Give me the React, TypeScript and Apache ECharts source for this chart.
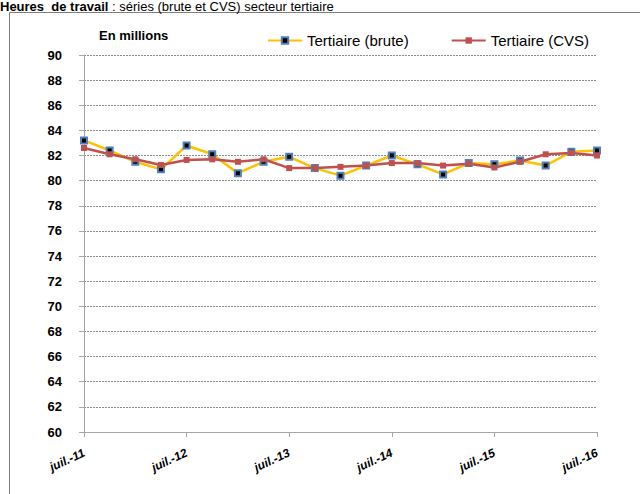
import React, { useEffect, useRef } from "react";
import * as echarts from "echarts";

const months = ["juil.", "oct.", "janv.", "avr."];
const categories: string[] = [];
for (let i = 0; i < 21; i++) {
  const m = months[i % 4];
  const yr = 11 + Math.floor((i + 2) / 4);
  categories.push(`${m}-${yr}`);
}
const brute = [83.2, 82.4, 81.5, 80.9, 82.8, 82.1, 80.6, 81.5, 81.9, 81.0, 80.4, 81.2, 82.0, 81.3, 80.5, 81.4, 81.3, 81.6, 81.2, 82.3, 82.4];
const cvs = [82.6, 82.1, 81.7, 81.25, 81.65, 81.7, 81.5, 81.7, 81.0, 81.0, 81.1, 81.2, 81.4, 81.4, 81.2, 81.35, 81.05, 81.5, 82.1, 82.2, 82.0];

const FONT = "'Liberation Sans', Arial, sans-serif";

export default function App() {
  const ref = useRef<HTMLDivElement>(null);
  useEffect(() => {
    const chart = echarts.init(ref.current!, null, { renderer: "svg" });
    chart.setOption({
      animation: false,
      backgroundColor: "#fff",
      graphic: [
        {
          type: "rect",
          shape: { x: 9.5, y: 12.5, width: 700, height: 600 },
          style: { fill: "none", stroke: "#7f7f7f", lineWidth: 1 },
        },
        {
          type: "text",
          left: 0,
          top: 0,
          z: 10,
          style: {
            text: "{b|Heures  de travail} : séries (brute et CVS) secteur tertiaire",
            font: "13px " + FONT,
            fill: "#000",
            rich: {
              b: { fontWeight: "bold", fontSize: 13, fontFamily: FONT },
            },
          },
        },
        {
          type: "text",
          left: 99,
          top: 29,
          style: { text: "En millions", font: "bold 13px " + FONT, fill: "#000" },
        },
      ],
      legend: {
        top: 28,
        left: 262,
        itemGap: 42,
        itemWidth: 34,
        itemHeight: 8,
        textStyle: { fontFamily: FONT, fontSize: 15, color: "#000" },
        data: ["Tertiaire (brute)", "Tertiaire (CVS)"],
      },
      grid: { left: 84, right: 43, top: 55, bottom: 62, containLabel: false },
      xAxis: {
        type: "category",
        data: categories,
        boundaryGap: false,
        axisLine: { lineStyle: { color: "#a6a6a6" } },
        axisTick: { alignWithLabel: true, interval: 3, length: 5, lineStyle: { color: "#a6a6a6" } },
        axisLabel: {
          interval: 3,
          rotate: 25,
          fontFamily: FONT,
          fontSize: 12,
          fontWeight: "bold",
          fontStyle: "italic",
          color: "#000",
          margin: 20,
        },
        splitLine: { show: false },
      },
      yAxis: {
        type: "value",
        min: 60,
        max: 90,
        interval: 2,
        axisLine: { show: true, lineStyle: { color: "#a6a6a6" } },
        axisTick: { show: true, length: 5, lineStyle: { color: "#a6a6a6" } },
        axisLabel: { fontFamily: FONT, fontSize: 13, fontWeight: "bold", color: "#000", margin: 22 },
        splitLine: { lineStyle: { color: "#8c8c8c", type: [2, 1], width: 1 } },
      },
      series: [
        {
          name: "Tertiaire (brute)",
          type: "line",
          data: brute,
          symbol: "rect",
          symbolSize: 6,
          showAllSymbol: true,
          lineStyle: { color: "#FFC000", width: 2.5 },
          itemStyle: { color: "#000", borderColor: "#4F81BD", borderWidth: 2 },
        },
        {
          name: "Tertiaire (CVS)",
          type: "line",
          data: cvs,
          symbol: "rect",
          symbolSize: 6,
          showAllSymbol: true,
          lineStyle: { color: "#C0504D", width: 2.5 },
          itemStyle: { color: "#C0504D", borderColor: "#C0504D", borderWidth: 0 },
        },
      ],
    });
    return () => chart.dispose();
  }, []);
  return (
    <div
      ref={ref}
      style={{ position: "fixed", left: 0, top: 0, width: 640, height: 494 }}
    />
  );
}
